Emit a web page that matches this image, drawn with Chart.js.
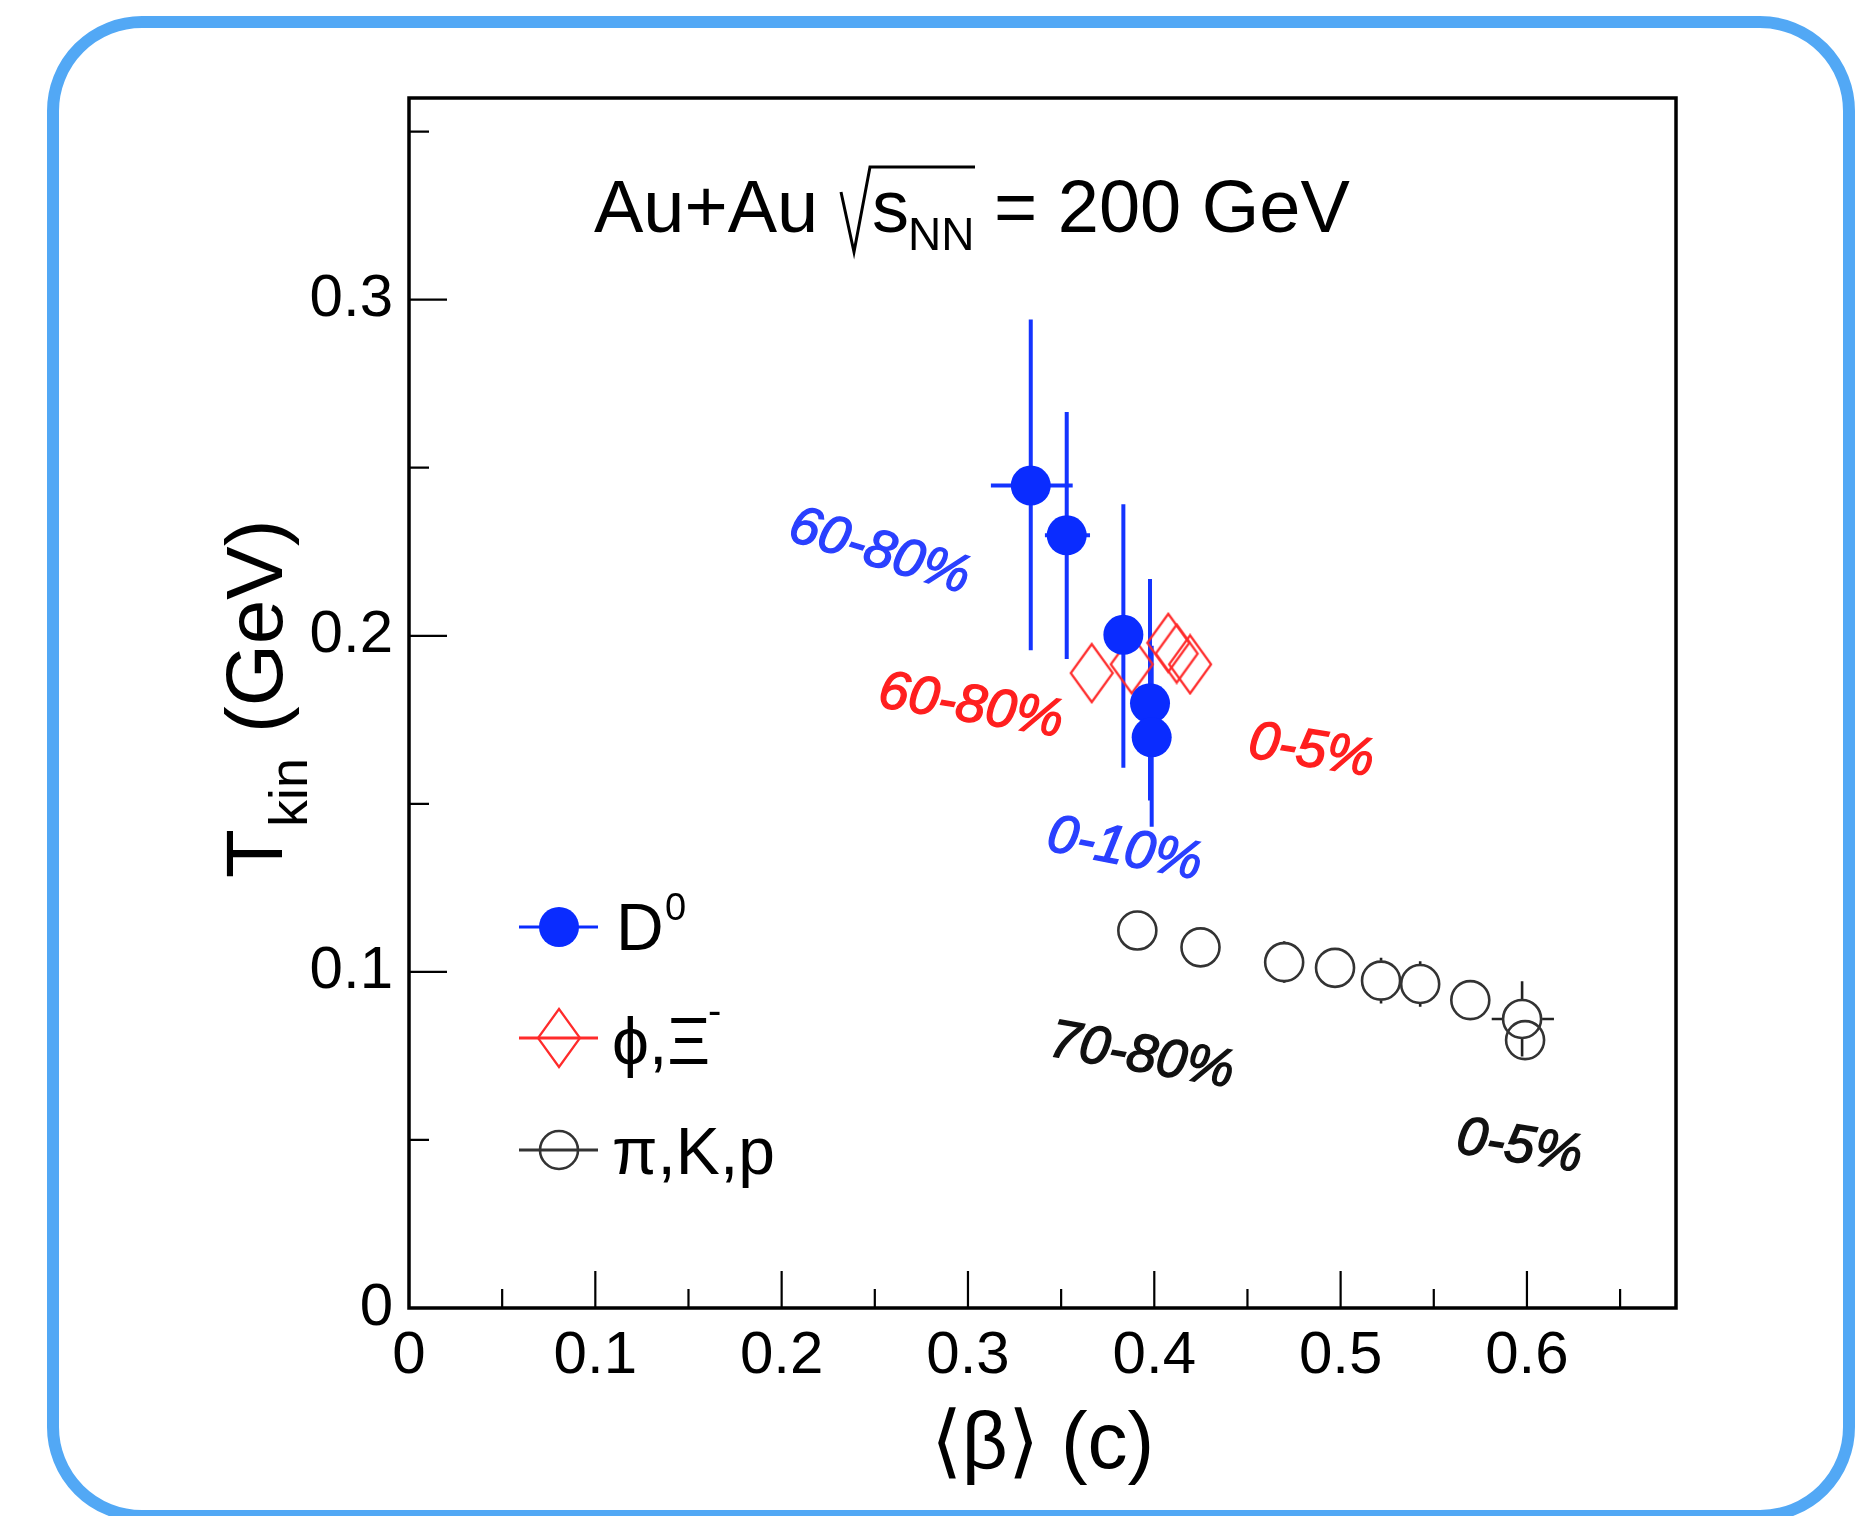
<!DOCTYPE html>
<html>
<head>
<meta charset="utf-8">
<script src="https://cdn.jsdelivr.net/npm/chart.js@4.4.1/dist/chart.umd.min.js"></script>
<style>
  html, body { margin: 0; padding: 0; background: #fff; }
  #wrap { position: relative; width: 1870px; height: 1516px; overflow: hidden; }
  #frame { position: absolute; left: 47px; top: 16px; width: 1808px; height: 1506px;
           box-sizing: border-box; border: 12px solid #52a8f5; border-radius: 95px; }
  canvas { position: absolute; left: 0; top: 0; }
</style>
</head>
<body>
<div id="wrap">
  <div id="frame"></div>
  <canvas id="chart" width="1870" height="1516"></canvas>
</div>
<script>
// D0 (blue filled circles)
const d0Beta     = [0.3337, 0.3530, 0.3834, 0.3977, 0.3986];
const d0T        = [0.2447, 0.2299, 0.2003, 0.1799, 0.1698];
const d0TLow     = [0.1957, 0.1931, 0.1607, 0.1510, 0.1432];
const d0THigh    = [0.2941, 0.2666, 0.2391, 0.2169, 0.1970];
const d0BetaLow  = [0.3123, 0.3413, 0.3834, 0.3977, 0.3986];
const d0BetaHigh = [0.3562, 0.3655, 0.3834, 0.3977, 0.3986];

// phi, Xi- (red open diamonds)
const phiBeta = [0.3664, 0.3879, 0.4075, 0.4120, 0.4192];
const phiT    = [0.1889, 0.1915, 0.1979, 0.1947, 0.1915];

// pi, K, p (black open circles)
const piBeta     = [0.3909, 0.4248, 0.4697, 0.4970, 0.5217, 0.5427, 0.5696, 0.5974, 0.5990];
const piT        = [0.1123, 0.1073, 0.1029, 0.1012, 0.0974, 0.0964, 0.0916, 0.0860, 0.0797];
const piTLow     = [0.1123, 0.1073, 0.0967, 0.1012, 0.0906, 0.0896, 0.0916, 0.0748, 0.0744];
const piTHigh    = [0.1123, 0.1073, 0.1091, 0.1012, 0.1042, 0.1032, 0.0916, 0.0972, 0.0850];
const piBetaLow  = [0.3909, 0.4248, 0.4697, 0.4970, 0.5217, 0.5427, 0.5696, 0.5811, 0.5990];
const piBetaHigh = [0.3909, 0.4248, 0.4697, 0.4970, 0.5217, 0.5427, 0.5696, 0.6145, 0.5990];

const xMin = 0, xMax = 0.68, yMin = 0, yMax = 0.36;

const FONT = '"Liberation Sans", Arial, Helvetica, sans-serif';
const BLUE = '#0a2cff';
const RED = '#ff2b2b';
const GREY = '#333';

function toPoints(xs, ys) {
  return xs.map((v, i) => ({ x: v, y: ys[i] }));
}

function diamond(w, h, color, lw) {
  const c = document.createElement('canvas');
  c.width = w + 4; c.height = h + 4;
  const g = c.getContext('2d');
  const cx = c.width / 2, cy = c.height / 2;
  g.strokeStyle = color; g.lineWidth = lw;
  g.beginPath();
  g.moveTo(cx, cy - h / 2); g.lineTo(cx + w / 2, cy);
  g.lineTo(cx, cy + h / 2); g.lineTo(cx - w / 2, cy);
  g.closePath(); g.stroke();
  return c;
}
const diamondImg = diamond(42, 58, RED, 2.2);

function isMajor(v) {
  return Math.abs(v * 10 - Math.round(v * 10)) < 1e-6;
}
function tickLabel(v) {
  if (!isMajor(v)) return '';
  return v === 0 ? '0' : v.toFixed(1);
}

// error bars, drawn outside the marker like ROOT does
const errorBars = {
  id: 'errorBars',
  beforeDatasetsDraw(chart) {
    const { ctx, scales: { x, y } } = chart;
    ctx.save();
    chart.data.datasets.forEach(ds => {
      const e = ds.err;
      if (!e) return;
      ctx.strokeStyle = e.color;
      ctx.lineWidth = e.width;
      ds.data.forEach((p, i) => {
        const px = x.getPixelForValue(p.x), py = y.getPixelForValue(p.y);
        const yh = y.getPixelForValue(e.tHigh[i]), yl = y.getPixelForValue(e.tLow[i]);
        const xl = x.getPixelForValue(e.bLow[i]), xh = x.getPixelForValue(e.bHigh[i]);
        ctx.beginPath();
        if (yh < py - e.gap) { ctx.moveTo(px, yh); ctx.lineTo(px, py - e.gap); }
        if (yl > py + e.gap) { ctx.moveTo(px, py + e.gap); ctx.lineTo(px, yl); }
        if (xl < px - e.gap) { ctx.moveTo(xl, py); ctx.lineTo(px - e.gap, py); }
        if (xh > px + e.gap) { ctx.moveTo(px + e.gap, py); ctx.lineTo(xh, py); }
        ctx.stroke();
      });
    });
    ctx.restore();
  }
};

const notes = [
  { s: '60-80%', b: 0.2501, t: 0.2206, a: 17, c: '#2a40ff' },
  { s: '60-80%', b: 0.3002, t: 0.1745, a: 9.5, c: '#ff1f1f' },
  { s: '0-5%',   b: 0.4830, t: 0.1611, a: 9,  c: '#ff1f1f' },
  { s: '0-10%',  b: 0.3825, t: 0.1319, a: 11, c: '#2a40ff' },
  { s: '70-80%', b: 0.3918, t: 0.0704, a: 10, c: '#111' },
  { s: '0-5%',   b: 0.5947, t: 0.0434, a: 9,  c: '#111' }
];

const decorations = {
  id: 'decorations',
  afterDraw(chart) {
    const { ctx, chartArea: a, scales: { x, y } } = chart;
    ctx.save();

    // frame
    ctx.strokeStyle = '#000';
    ctx.lineWidth = 3.5;
    ctx.strokeRect(a.left, a.top, a.right - a.left, a.bottom - a.top);

    // inward tick marks
    ctx.lineWidth = 2.2;
    ctx.beginPath();
    x.ticks.forEach(t => {
      if (t.value <= xMin || t.value >= xMax) return;
      const px = x.getPixelForValue(t.value);
      ctx.moveTo(px, a.bottom);
      ctx.lineTo(px, a.bottom - (isMajor(t.value) ? 37 : 19));
    });
    y.ticks.forEach(t => {
      if (t.value <= yMin || t.value >= yMax) return;
      const py = y.getPixelForValue(t.value);
      ctx.moveTo(a.left, py);
      ctx.lineTo(a.left + (isMajor(t.value) ? 38 : 20), py);
    });
    ctx.stroke();

    ctx.fillStyle = '#000';
    ctx.textAlign = 'left';
    ctx.textBaseline = 'alphabetic';

    // title: Au+Au sqrt(s_NN) = 200 GeV
    ctx.font = '74px ' + FONT;
    ctx.fillText('Au+Au', 594, 232);
    ctx.lineWidth = 3;
    ctx.beginPath();
    ctx.moveTo(841, 192); ctx.lineTo(854, 252); ctx.lineTo(870, 167); ctx.lineTo(975, 167);
    ctx.stroke();
    ctx.fillText('s', 872, 232);
    ctx.font = '46px ' + FONT;
    ctx.fillText('NN', 908, 250);
    ctx.font = '74px ' + FONT;
    ctx.fillText('= 200 GeV', 994, 232);

    // y title: T_kin (GeV)
    ctx.save();
    ctx.translate(282, 878);
    ctx.rotate(-Math.PI / 2);
    ctx.font = '80px ' + FONT;
    ctx.fillText('T', 0, 0);
    ctx.font = '54px ' + FONT;
    ctx.fillText('kin', 51, 25);
    ctx.font = '80px ' + FONT;
    ctx.fillText('(GeV)', 145, 0);
    ctx.restore();

    // x title
    ctx.font = '80px ' + FONT;
    ctx.textAlign = 'center';
    ctx.fillText('\u27E8\u03B2\u27E9 (c)', (a.left + a.right) / 2, 1468);

    // centrality notes
    notes.forEach(n => {
      ctx.save();
      ctx.translate(x.getPixelForValue(n.b), y.getPixelForValue(n.t));
      ctx.rotate(n.a * Math.PI / 180);
      ctx.font = 'italic 54px ' + FONT;
      ctx.fillStyle = n.c;
      ctx.strokeStyle = n.c;
      ctx.lineWidth = 1.4;
      ctx.textAlign = 'center';
      ctx.fillText(n.s, 0, 0);
      ctx.strokeText(n.s, 0, 0);
      ctx.restore();
    });

    // legend
    const lx0 = 519, lx1 = 598, mx = 559;
    ctx.textAlign = 'left';
    // D0
    ctx.strokeStyle = BLUE; ctx.lineWidth = 3;
    ctx.beginPath(); ctx.moveTo(lx0, 927); ctx.lineTo(lx1, 927); ctx.stroke();
    ctx.fillStyle = BLUE;
    ctx.beginPath(); ctx.arc(mx, 927, 20, 0, Math.PI * 2); ctx.fill();
    ctx.fillStyle = '#000';
    ctx.font = '66px ' + FONT;
    ctx.fillText('D', 616, 950);
    ctx.font = '38px ' + FONT;
    ctx.fillText('0', 665, 920);
    // phi, Xi
    ctx.strokeStyle = RED; ctx.lineWidth = 3;
    ctx.beginPath(); ctx.moveTo(lx0, 1038); ctx.lineTo(lx1, 1038); ctx.stroke();
    ctx.drawImage(diamondImg, mx - diamondImg.width / 2, 1038 - diamondImg.height / 2);
    ctx.fillStyle = '#000';
    ctx.font = '66px ' + FONT;
    ctx.fillText('\u03D5,\u039E', 612, 1064);
    ctx.font = '40px ' + FONT;
    ctx.fillText('-', 708, 1024);
    // pi, K, p
    ctx.strokeStyle = GREY; ctx.lineWidth = 3;
    ctx.beginPath(); ctx.moveTo(lx0, 1150); ctx.lineTo(lx1, 1150); ctx.stroke();
    ctx.lineWidth = 2.6;
    ctx.beginPath(); ctx.arc(mx, 1150, 19, 0, Math.PI * 2); ctx.stroke();
    ctx.fillStyle = '#000';
    ctx.font = '66px ' + FONT;
    ctx.fillText('\u03C0,K,p', 612, 1174);

    ctx.restore();
  }
};

new Chart(document.getElementById('chart'), {
  type: 'scatter',
  data: {
    datasets: [
      {
        label: 'D0',
        data: toPoints(d0Beta, d0T),
        pointStyle: 'circle',
        pointRadius: 20,
        backgroundColor: BLUE,
        borderColor: BLUE,
        borderWidth: 0,
        order: 1,
        err: { tLow: d0TLow, tHigh: d0THigh, bLow: d0BetaLow, bHigh: d0BetaHigh, color: '#1434ff', width: 4, gap: 0 }
      },
      {
        label: 'phi,Xi-',
        data: toPoints(phiBeta, phiT),
        pointStyle: diamondImg,
        pointRadius: 21,
        order: 2
      },
      {
        label: 'pi,K,p',
        data: toPoints(piBeta, piT),
        pointStyle: 'circle',
        pointRadius: 19,
        backgroundColor: 'rgba(0,0,0,0)',
        borderColor: GREY,
        borderWidth: 2.6,
        order: 3,
        err: { tLow: piTLow, tHigh: piTHigh, bLow: piBetaLow, bHigh: piBetaHigh, color: '#222', width: 2.6, gap: 20 }
      }
    ]
  },
  options: {
    responsive: false,
    animation: false,
    events: [],
    layout: { padding: { left: 0, top: 98, right: 194, bottom: 0 } },
    plugins: { legend: { display: false }, tooltip: { enabled: false } },
    scales: {
      x: {
        type: 'linear', min: xMin, max: xMax,
        afterFit(s) { s.height = 208; },
        grid: { display: false, drawTicks: false },
        border: { display: false },
        ticks: {
          stepSize: 0.05, includeBounds: false, autoSkip: false, maxRotation: 0,
          padding: 12, color: '#000', font: { family: FONT, size: 60 },
          callback: v => tickLabel(v)
        }
      },
      y: {
        type: 'linear', min: yMin, max: yMax,
        afterFit(s) { s.width = 409; },
        grid: { display: false, drawTicks: false },
        border: { display: false },
        ticks: {
          stepSize: 0.05, includeBounds: false, autoSkip: false,
          padding: 16, color: '#000', font: { family: FONT, size: 60 },
          callback: v => tickLabel(v)
        }
      }
    }
  },
  plugins: [errorBars, decorations]
});
</script>
</body>
</html>
